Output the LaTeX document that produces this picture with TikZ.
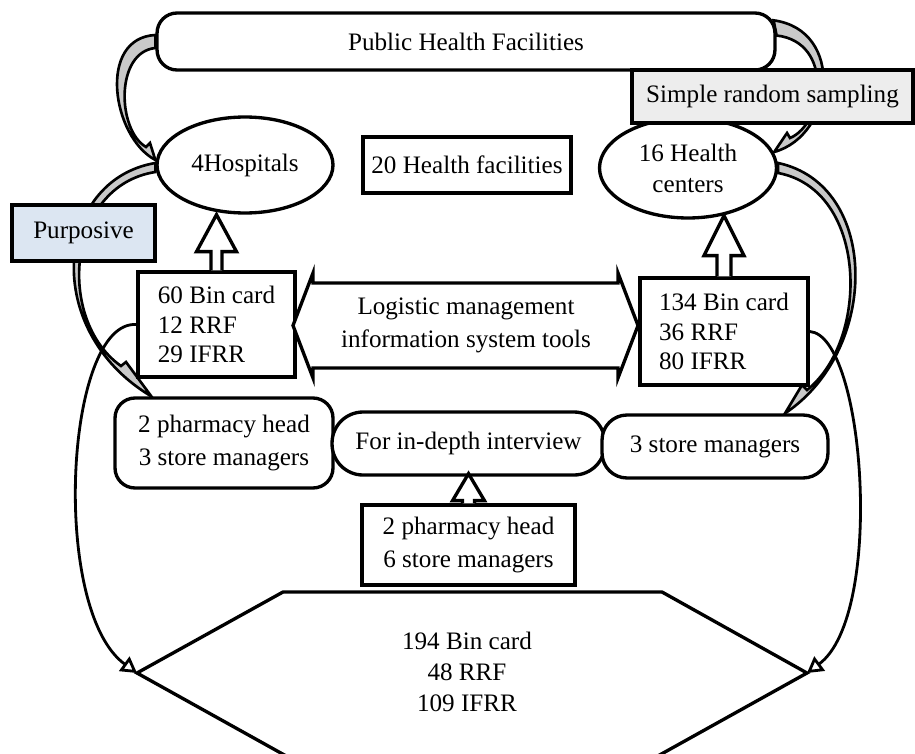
\documentclass[tikz,border=0pt]{standalone}
\usepackage{fontspec}
\setmainfont{Liberation Serif}
\usetikzlibrary{shapes.geometric,calc,arrows.meta,backgrounds}

\definecolor{purpblue}{HTML}{DCE6F2}
\definecolor{srsgray}{HTML}{EDEDED}
\definecolor{bandgray}{HTML}{C9C9C9}

\newcommand{\nodefont}{\fontsize{14.3}{17}\selectfont}
% base, tip, head length, head half width, shaft half width
\newcommand{\blockarrow}[5]{%
  \filldraw[blockarr] ($(#1)+(-#5,0)$) -- ($(#2)+(-#5,-#3)$) -- ($(#2)+(-#4,-#3)$)
    -- (#2) -- ($(#2)+(#4,-#3)$) -- ($(#2)+(#5,-#3)$) -- ($(#1)+(#5,0)$);}

\begin{document}
\begin{tikzpicture}[x=0.02cm, y=0.02cm,
    box/.style={draw, line width=1.9pt, fill=white, font=\nodefont, inner sep=0pt},
    roundbox/.style={box, rounded corners=0.4cm},
    oval/.style={box, ellipse},
    band/.style={draw, line width=1.5pt, fill=bandgray, line join=miter},
    blockarr/.style={draw, line width=1.9pt, fill=white, line join=miter},
    hexline/.style={line width=1.9pt, line join=miter},
    sumline/.style={line width=1.6pt, -{Triangle[open, length=9pt, width=10pt]}},
]
\useasboundingbox (0,0) rectangle (915,-753);
\clip (0,0) rectangle (915,-753);

% --- Facilities ---
\node[roundbox, minimum width=12.36cm, minimum height=1.14cm] (phf) at (466,-41.5) {Public Health Facilities};
\node[oval, minimum width=3.52cm, minimum height=1.92cm] (hosp) at (245,-165) {4Hospitals};
\node[box, minimum width=4.16cm, minimum height=1.12cm] (hf20) at (467,-165) {20 Health facilities};
\node[oval, align=center, minimum width=3.54cm, minimum height=2cm] (hc16) at (688,-168) {16 Health\\[0.6pt]centers};

% --- Sampling labels ---
\node[box, fill=srsgray, minimum width=5.62cm, minimum height=1.06cm] (srs) at (772.5,-96.5) {Simple random sampling};
\node[box, fill=purpblue, minimum width=2.86cm, minimum height=1.12cm] (purp) at (83.5,-233) {Purposive};

% --- LMIS tools ---
\node[box, align=left, minimum width=3.14cm, minimum height=2.1cm] (bin60) at (216.5,-324.5) {60 Bin card\\12 RRF\\29 IFRR};
\node[box, align=left, minimum width=3.36cm, minimum height=2.14cm] (bin134) at (724,-331.5) {134 Bin card\\36 RRF\\80 IFRR};
\coordinate (lmisc) at (466,-325.5);
\filldraw[blockarr] ($(lmisc)+(-173,0)$) -- ($(lmisc)+(-153,52.5)$) -- ($(lmisc)+(-153,42.5)$)
  -- ($(lmisc)+(152,42.5)$) -- ($(lmisc)+(152,52.5)$) -- ($(lmisc)+(172,0)$)
  -- ($(lmisc)+(152,-52.5)$) -- ($(lmisc)+(152,-42.5)$) -- ($(lmisc)+(-153,-42.5)$)
  -- ($(lmisc)+(-153,-52.5)$) -- cycle;
\node[font=\nodefont, align=center] (lmis) at (lmisc) {Logistic management\\[1.8pt]information system tools};

% --- Interviews ---
\node[roundbox, align=center, minimum width=4.36cm, minimum height=1.8cm] (ph2) at (224,-443) {2 pharmacy head\\[1.8pt]3 store managers};
\node[box, rounded corners=0.62cm, minimum width=5.46cm, minimum height=1.26cm] (idi) at (468.5,-443.5) {For in-depth interview};
\node[box, rounded corners=0.5cm, minimum width=4.52cm, minimum height=1.26cm] (sm3) at (715,-446.5) {3 store managers};
\node[box, align=center, minimum width=4.26cm, minimum height=1.6cm] (ph6) at (468.5,-545) {2 pharmacy head\\[1.8pt]6 store managers};

% --- Totals ---
\coordinate (hexL) at (137,-673);
\coordinate (hexR) at (807,-673);
\draw[hexline] (283,-592) -- (662,-592) -- (hexR) -- (656,-757) -- (288,-757) -- (hexL) -- cycle;
\node[font=\nodefont, align=center] (tot) at (467,-672) {194 Bin card\\[0.6pt]48 RRF\\[0.6pt]109 IFRR};

% --- Block arrows ---
\coordinate (tip1) at (bin60.north |- hosp.south);
\blockarrow{bin60.north}{tip1}{37}{20}{5.5}
\coordinate (tip2) at ($(bin134.north |- hc16.south)+(0,4)$);
\blockarrow{bin134.north}{tip2}{40}{20}{7}
\coordinate (tip3) at ($(ph6.north |- idi.south)+(0,3)$);
\blockarrow{ph6.north}{tip3}{27}{16}{6}

% --- Curved arrows ---
\begin{scope}[on background layer]
\filldraw[band] ($(phf.west)+(0,6.5)$) .. controls (97,-38) and (112,-137) .. ($(hosp.west)+(0,5)$)
  -- (150,-143) -- (146,-147) .. controls (117,-130) and (115,-52) .. ($(phf.west)+(0,-6.5)$) -- cycle;
\filldraw[band] ($(hosp.west)+(0,2)$) .. controls (55,-180) and (40,-330) .. ($(ph2.north west)+(38,0)$)
  -- (126,-362) -- (121,-366) .. controls (56,-320) and (66,-186) .. ($(hosp.west)+(0,-7)$) -- cycle;
\filldraw[band] ($(phf.north east)+(-3,-9)$) .. controls (845,-30) and (835,-135) .. ($(hc16.east)+(-4,16)$)
  -- (787,-133) -- (790,-138) .. controls (824,-124) and (834,-42) .. ($(phf.east)+(0,6)$) -- cycle;
\filldraw[band] ($(hc16.east)+(0,5)$) .. controls (880,-185) and (880,-350) .. ($(sm3.north)+(70,0)$)
  -- (802,-385) -- (807,-390) .. controls (870,-340) and (868,-190) .. ($(hc16.east)+(0,-5)$) -- cycle;
\end{scope}

\draw[sumline] (bin60.west) .. controls (65,-320) and (50,-610) .. (hexL);
\draw[sumline] (bin134.east) .. controls (865,-335) and (885,-615) .. (hexR);

\end{tikzpicture}
\end{document}
